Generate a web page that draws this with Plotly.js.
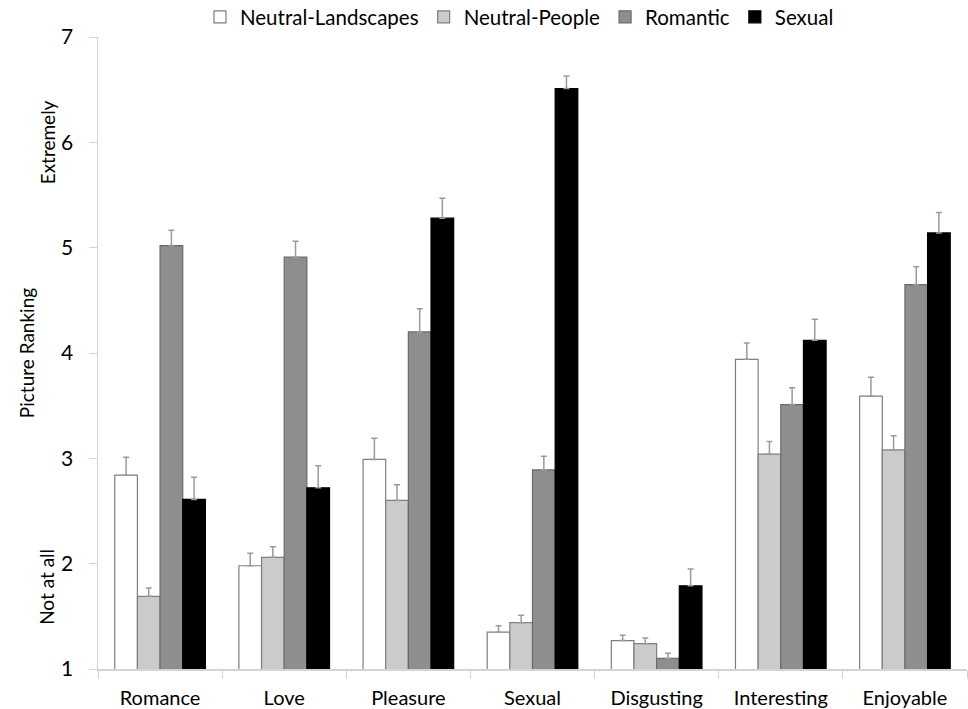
<!DOCTYPE html>
<html>
<head>
<meta charset="utf-8">
<script src="https://cdn.plot.ly/plotly-3.0.1.min.js"></script>
<style>html,body{margin:0;padding:0;background:#fff;}#chart{width:968px;height:709px;}</style>
</head>
<body>
<div id="chart"></div>
<script>
const categories = ["Romance", "Love", "Pleasure", "Sexual", "Disgusting", "Interesting", "Enjoyable"];
const seriesNames = ["Neutral-Landscapes", "Neutral-People", "Romantic", "Sexual"];
const landscapes = [2.84, 1.98, 2.99, 1.35, 1.27, 3.94, 3.59];
const landscapesErr = [0.17, 0.12, 0.20, 0.06, 0.05, 0.155, 0.18];
const people = [1.69, 2.06, 2.60, 1.44, 1.24, 3.04, 3.08];
const peopleErr = [0.08, 0.10, 0.15, 0.07, 0.055, 0.12, 0.135];
const romantic = [5.02, 4.91, 4.20, 2.89, 1.10, 3.51, 4.65];
const romanticErr = [0.145, 0.15, 0.22, 0.13, 0.05, 0.16, 0.17];
const sexual = [2.61, 2.72, 5.28, 6.51, 1.79, 4.12, 5.14];
const sexualErr = [0.21, 0.21, 0.19, 0.12, 0.16, 0.20, 0.195];
const yTicks = [1, 2, 3, 4, 5, 6, 7];

const fills = ["#ffffff", "#cbcbcb", "#8e8e8e", "#000000"];
const outlines = ["#7f7f7f", "#7f7f7f", "#6a6a6a", "#000000"];
const vals = [landscapes, people, romantic, sexual];
const errs = [landscapesErr, peopleErr, romanticErr, sexualErr];

const font = "Lato, 'Open Sans', sans-serif";

const traces = seriesNames.map((name, i) => ({
  type: "bar",
  name: name,
  x: categories,
  y: vals[i],
  base: 0,
  marker: {color: fills[i], line: {color: outlines[i], width: 1.2}},
  error_y: {type: "data", array: errs[i], symmetric: false, arrayminus: errs[i].map(() => 0),
            color: "#9a9a9a", thickness: 1.5, width: 3},
  hoverinfo: "skip"
}));

const layout = {
  width: 968, height: 709,
  margin: {l: 98, r: 1, t: 37, b: 40, autoexpand: false},
  paper_bgcolor: "#ffffff", plot_bgcolor: "#ffffff",
  font: {family: font, color: "#000000"},
  barmode: "group", bargap: 0.27, bargroupgap: 0,
  showlegend: true,
  legend: {orientation: "h", x: 0.485, xanchor: "center", y: 1.0, yanchor: "bottom",
           font: {size: 20.5, family: font, color: "#000"}, itemwidth: 30, traceorder: "normal",
           bgcolor: "rgba(0,0,0,0)"},
  xaxis: {
    type: "category", showgrid: false, zeroline: false,
    showline: true, linecolor: "#d4d4d4", linewidth: 1.5,
    ticks: "outside", tickson: "boundaries", ticklen: 8, tickcolor: "#d4d4d4", tickwidth: 1,
    tickfont: {size: 20, family: font, color: "#000"},
    ticklabelstandoff: 10,
    fixedrange: true
  },
  yaxis: {
    range: [1, 7], tickvals: yTicks, ticktext: yTicks.map(String),
    showgrid: false, zeroline: false,
    showline: true, linecolor: "#d4d4d4", linewidth: 1.5,
    ticks: "outside", ticklen: 8, tickcolor: "#d4d4d4", tickwidth: 1,
    tickfont: {size: 21, family: font, color: "#000"},
    ticklabelstandoff: 11,
    title: {text: "Picture Ranking", font: {size: 19, family: font, color: "#000"}, standoff: 21},
    fixedrange: true
  },
  annotations: [
    {text: "Extremely", xref: "paper", yref: "y", x: 0, y: 6.0, xshift: -51, textangle: -90,
     showarrow: false, font: {size: 19, family: font, color: "#000"}, xanchor: "center", yanchor: "middle"},
    {text: "Not at all", xref: "paper", yref: "y", x: 0, y: 1.78, xshift: -51, textangle: -90,
     showarrow: false, font: {size: 19, family: font, color: "#000"}, xanchor: "center", yanchor: "middle"}
  ]
};

Plotly.newPlot("chart", traces, layout, {displayModeBar: false, staticPlot: true});
</script>
</body>
</html>
